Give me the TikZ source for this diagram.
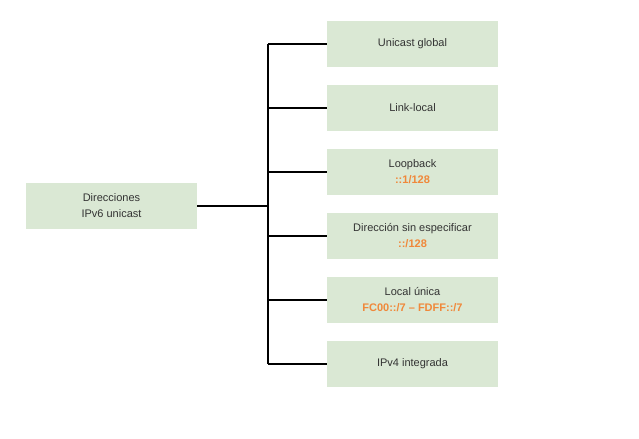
\documentclass[tikz,border=0pt]{standalone}
\usepackage{fontspec}
\setmainfont{Liberation Sans}
\definecolor{boxfill}{HTML}{DAE8D4}
\definecolor{txt}{HTML}{333333}
\definecolor{orng}{HTML}{F0883A}
\begin{document}
\begin{tikzpicture}[x=0.75pt,y=-0.75pt,
  box/.style={fill=boxfill, draw=none, minimum width=171*0.75pt, minimum height=46*0.75pt,
    inner sep=0pt, align=center, text=txt, font=\fontsize{8.25pt}{12pt}\selectfont},
  link/.style={line width=1.5pt, black},
  hl/.style={text=orng, font=\bfseries}]
\useasboundingbox (0,0) rectangle (639,439);
\node[box] (root) at (111.5,205.5) {Direcciones\\IPv6 unicast};
\node[box] (n1) at (412.5,44) {Unicast global};
\node[box] (n2) at (412.5,108) {Link-local};
\node[box] (n3) at (412.5,172) {Loopback\\{\bfseries\color{orng}::1/128}};
\node[box] (n4) at (412.5,236) {Dirección sin especificar\\{\bfseries\color{orng}::/128}};
\node[box] (n5) at (412.5,300) {Local única\\{\bfseries\color{orng}FC00::/7 – FDFF::/7}};
\node[box] (n6) at (412.5,363.5) {IPv4 integrada};
\coordinate (j) at (268,205.5);
\coordinate (jt) at (268,44);
\coordinate (jb) at (268,363.5);
\draw[link] (root.east) -- (j);
\draw[link] (jt) -- (jb);
\foreach \n in {n1,n2,n3,n4,n5,n6}{
  \draw[link] (\n.west) -- (jt |- \n.west);
}
\end{tikzpicture}
\end{document}
